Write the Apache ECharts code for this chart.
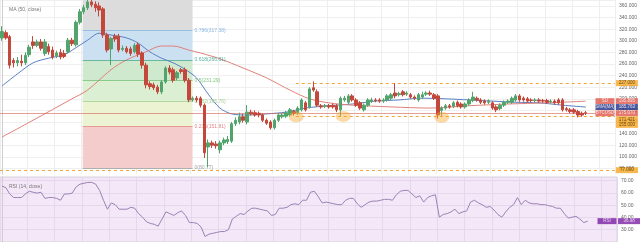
<!DOCTYPE html>
<html><head><meta charset="utf-8">
<script src="https://cdn.jsdelivr.net/npm/echarts@6/dist/echarts.min.js"></script>
<style>html,body{margin:0;padding:0;background:#fff}#c{width:640px;height:242px}</style>
</head><body><div id="c"></div>
<script>
// ---- data ----
const slotCount = 158;
const categories = Array.from({length: slotCount}, (_, i) => String(i + 1));
const opens = [305,314,307,266,262,265,262,276,298,292,298,278,290,284,274,280,278,281,301,293,332,350,357,367,363,360,355,310,286,308,308,285,287,286,281,293,279,258,226,224,220,212,229,253,250,236,250,250,232,198,201,201,189,117,124,122,112,124,126,127,157,160,169,160,177,176,175,172,163,160,150,163,169,170,172,178,176,181,193,186,219,212,188,187,188,189,188,181,198,194,205,198,193,181,189,196,198,198,196,198,201,210,207,212,208,207,203,198,203,208,210,207,205,180,184,188,187,194,191,186,191,197,201,198,196,194,193,186,183,189,194,194,198,205,201,200,198,197,198,197,197,195,196,198,198,183,181,181,178,175,176];
const closes = [316,305,258,262,266,262,275,289,292,298,287,298,281,272,279,272,273,301,295,332,350,357,367,362,357,353,310,284,304,303,284,287,281,278,292,277,258,224,221,219,212,229,253,246,232,245,247,232,198,201,198,189,107,124,120,119,124,129,130,157,163,169,163,177,174,172,172,163,158,150,163,172,172,176,181,175,184,198,181,217,215,189,186,188,186,186,181,201,201,205,198,189,184,189,198,198,197,196,198,205,207,205,209,207,210,203,201,207,207,210,208,201,172,184,188,186,193,188,186,191,198,203,198,194,193,196,184,181,189,194,196,201,205,198,198,196,197,198,196,196,194,196,193,193,181,181,178,177,172,172,175.07];
const lows = [300,302,252,254,256,256,258,272,286,289,283,274,276,268,270,268,270,278,291,290,328,346,353,358,350,342,305,280,258,298,280,282,278,274,278,272,252,218,216,215,208,208,226,242,228,232,243,228,194,195,194,185,98,82,115,114,106,120,122,124,153,156,159,156,171,169,168,160,155,147,147,160,166,167,169,171,172,178,178,183,212,186,183,184,183,183,177,170,195,191,195,186,181,178,186,193,194,193,193,195,198,201,204,204,205,200,198,195,200,205,205,198,166,170,181,183,184,185,183,183,188,194,195,191,190,191,181,177,180,186,191,191,195,195,195,193,194,194,193,193,191,192,190,190,178,178,175,174,168,169,172];
const highs = [325,318,310,270,272,276,280,293,308,302,303,303,295,290,283,286,284,305,305,335,355,362,372,372,368,366,358,314,307,312,312,292,291,290,296,297,282,262,230,228,224,232,256,258,254,248,253,254,236,204,205,204,192,130,128,127,128,133,136,160,168,176,174,189,181,180,178,175,166,163,166,175,175,179,184,181,187,201,196,220,230,216,191,191,191,192,191,204,205,208,208,201,196,192,201,202,201,201,201,208,210,227,212,215,213,210,206,210,212,213,214,210,208,187,191,191,196,197,194,194,201,212,204,201,199,199,196,189,192,197,199,204,208,208,204,203,201,201,201,200,200,199,199,201,201,186,184,184,181,178,179];
const rsiValues = [65.6,64.2,59.1,56.2,56.2,56.2,59.1,61.3,60.5,59.8,60.5,55.5,56.2,56.2,55.5,54.0,59.1,59.1,59.8,64.9,67.1,67.8,68.5,68.5,67.1,62.0,54.0,46.7,51.8,50.4,46.7,46.7,46.7,48.2,47.5,43.1,40.2,36.5,35.1,34.4,32.9,38.7,44.5,43.1,41.6,43.8,45.3,41.6,35.8,35.8,35.1,32.2,24.5,26.4,27.1,27.8,28.5,28.5,30.0,38.7,40.9,43.1,42.4,45.3,47.5,47.5,46.7,46.0,45.3,41.6,42.4,47.5,47.5,48.2,50.4,51.1,50.4,54.0,54.0,60.5,61.3,56.9,51.8,52.5,51.8,51.1,50.4,50.4,54.0,55.5,55.5,51.1,48.2,50.4,52.5,53.3,53.3,54.0,54.7,54.7,54.0,58.4,61.3,62.0,62.0,59.1,56.2,57.6,52.5,56.2,57.6,58.4,40.2,42.4,43.1,44.5,46.7,43.1,44.5,45.3,52.5,54.0,51.8,50.4,48.2,48.9,46.0,42.4,40.2,44.5,48.2,50.4,56.2,50.4,54.0,51.8,51.1,51.1,50.4,50.4,49.6,48.9,47.5,47.5,43.1,39.5,40.2,40.9,38.7,35.8,36.98];
// moving averages: [candle index, value]
const maBlue = [[0,222],[4,243],[8,262],[12,270],[16,276],[19,288],[22,301],[25,313],[28,310],[32,305],[35,296],[38,281],[41,270],[44,262],[47,251],[50,236],[53,208],[56,184],[59,174],[63,172],[68,174],[73,177],[78,184],[84,188],[90,191],[96,196],[102,198],[108,201],[114,200],[120,198],[126,196],[132,194],[138,193],[144,189],[150,185.763]];
const maRed = [[0,134],[8,163],[18,200],[22,215],[28,250],[32,267],[37,281],[41,291],[44,291],[48,284],[51,279],[56,269],[62,253],[68,236],[74,215],[79,200],[84,193],[90,189],[100,186],[110,184],[120,188],[130,191],[140,193],[150,195.895]];
const priceTicks = [80,100,120,140,160,180,200,220,240,260,280,300,320,340,360];
const rsiTicks = [30,40,50,60,70];
// drawing tools
const fibStart = [20.75, 381.8];
const fibEnd = [48.97, 80.77];
const fibLevels = [0, 0.236, 0.382, 0.5, 0.618, 0.786, 1];
const fibLineColors = ['#8a8a8a','#e06666','#93c47d','#5fb65f','#2e9b84','#6fa8dc','#8a8a8a'];
const fibZoneColors = ['#f4cccc','#ecf3d3','#dbefd3','#cfe9cf','#cbe0f1','#dcdcdc'];
const levelLines = [{from: 75.5, value: 227}, {from: 75.5, value: 170}, {from: -0.5, value: 77}];
const circles = [[75.6, 169], [87.7, 169.5], [113, 168]];
const lastPrice = 175.07;
const tags = [
  {name: 'SU', value: 195.895, color: '#e0574b'},
  {name: 'SMA(MA)', value: 185.763, color: '#1f2f86'},
  {name: 'BTCUSD', value: 175.070, color: '#e0574b'}
];
const orangeTags = [{value: 227, label: '227.000'}, {value: 164.6, label: '171.421'}, {value: 155, label: '155.000'}, {value: 77, label: '77.000'}];
const rsiTag = {name: 'RSI', value: 36.98};

// ---- build ----
const candleData = opens.map((o, i) => [o, closes[i], lows[i], highs[i]]);
const fibVal = l => fibEnd[1] + (fibStart[1] - fibEnd[1]) * l;
const fibAreas = [];
for (let k = 0; k < fibLevels.length - 1; k++) {
  fibAreas.push([{coord: [fibStart[0], fibVal(fibLevels[k])], itemStyle: {color: fibZoneColors[k]}},
                 {coord: [fibEnd[0], fibVal(fibLevels[k + 1])]}]);
}
const fibLines = fibLevels.map((l, k) => [
  {coord: [fibStart[0], fibVal(l)], lineStyle: {color: fibLineColors[k], width: 0.8, type: 'solid', opacity: 0.8},
   label: {show: k < 6, position: 'end', distance: 2, formatter: l + '(' + fibVal(l).toFixed(2) + ')', color: fibLineColors[k], fontSize: 5}},
  {coord: [fibEnd[0], fibVal(l)]}
]);
const diag = [{coord: fibStart, lineStyle: {color: '#999', type: [2, 2], width: 0.8}, label: {show: false}}, {coord: fibEnd}];
const hLines = levelLines.map(d => [
  {coord: [d.from, d.value], lineStyle: {color: '#f0a535', type: [3, 3], width: 1}, label: {show: false}},
  {coord: [157.5, d.value]}
]);
const nameX = 154.94, valX = 160.58;
const tagPoints = [];
tags.forEach(t => {
  tagPoints.push({value: [nameX, t.value], symbolSize: [19, 6], itemStyle: {color: t.color}, label: {formatter: t.name}});
  tagPoints.push({value: [valX, t.value], symbolSize: [22, 6], itemStyle: {color: t.color}, label: {formatter: t.value.toFixed(3)}});
});
orangeTags.forEach(t => {
  tagPoints.push({value: [valX, t.value], symbolSize: [22, 6], itemStyle: {color: '#f5a623'}, label: {formatter: t.label, color: '#4a2c00'}});
});

const chart = echarts.init(document.getElementById('c'), null, {renderer: 'canvas'});
chart.setOption({
  animation: false,
  backgroundColor: '#ffffff',
  title: [
    {text: 'MA (50, close)', left: 4, top: 2, textStyle: {fontSize: 5, color: '#777', fontWeight: 'normal'}},
    {text: 'RSI (14, close)', left: 4, top: 179, textStyle: {fontSize: 5, color: '#777', fontWeight: 'normal'}}
  ],
  grid: [
    {left: 0, top: 0, width: 617, height: 174.2},
    {left: 0, top: 177, width: 617, height: 72.7, show: true, backgroundColor: '#f4e7f8', borderColor: '#d5d5d5', borderWidth: 1}
  ],
  xAxis: [
    {type: 'category', gridIndex: 0, data: categories, boundaryGap: true, axisLine: {show: false}, axisTick: {show: false}, axisLabel: {show: false},
     splitLine: {show: true, interval: 6, lineStyle: {color: '#eeeeee', width: 1}}},
    {type: 'value', gridIndex: 0, min: -0.5, max: slotCount - 0.5, show: false},
    {type: 'category', gridIndex: 1, data: categories, boundaryGap: true, axisLine: {show: false}, axisTick: {show: false}, axisLabel: {show: false},
     splitLine: {show: true, interval: 6, lineStyle: {color: '#e6d8ec', width: 1}}},
    {type: 'value', gridIndex: 1, min: -0.5, max: slotCount - 0.5, show: false}
  ],
  yAxis: [
    {type: 'value', gridIndex: 0, position: 'right', min: 70, max: 370.3, interval: 10,
     axisLine: {show: true, lineStyle: {color: '#cfcfcf'}}, axisTick: {show: false},
     axisLabel: {margin: 4, fontSize: 5, color: '#666', showMaxLabel: false,
       formatter: v => priceTicks.includes(Math.round(v)) && Math.abs(v - Math.round(v)) < 1e-6 ? v.toFixed(3) : ''},
     splitLine: {show: true, lineStyle: {color: ['transparent', '#efefef']}}},
    {type: 'value', gridIndex: 1, position: 'right', min: 20, max: 72.9, interval: 10,
     axisLine: {show: true, lineStyle: {color: '#cfcfcf'}}, axisTick: {show: false},
     axisLabel: {margin: 4, fontSize: 5, color: '#666', showMaxLabel: false,
       formatter: v => rsiTicks.includes(Math.round(v)) && Math.abs(v - Math.round(v)) < 1e-6 ? v.toFixed(2) : ''},
     splitLine: {show: true, lineStyle: {color: '#e6d8ec'}}}
  ],
  series: [
    {type: 'line', xAxisIndex: 1, yAxisIndex: 0, data: [], z: 1, silent: true,
     markArea: {silent: true, data: fibAreas, itemStyle: {opacity: 1}},
     markLine: {silent: true, symbol: ['none', 'none'], data: fibLines.concat([diag]).concat(hLines)}},
    {type: 'candlestick', xAxisIndex: 0, yAxisIndex: 0, data: candleData, barWidth: 3, z: 5,
     itemStyle: {color: '#52a46c', color0: '#c4473c', borderColor: '#52a46c', borderColor0: '#c4473c', borderWidth: 1},
     markLine: {silent: true, symbol: ['none', 'none'], label: {show: false},
       lineStyle: {color: '#d9665c', type: 'solid', width: 0.8, opacity: 0.8}, data: [{yAxis: lastPrice}]}},
    {type: 'line', xAxisIndex: 0, yAxisIndex: 0, data: maBlue, showSymbol: false, smooth: 0.3, z: 4,
     lineStyle: {color: '#5a7fc4', width: 1}},
    {type: 'line', xAxisIndex: 0, yAxisIndex: 0, data: maRed, showSymbol: false, smooth: 0.3, z: 4,
     lineStyle: {color: '#e0827a', width: 1}},
    {type: 'scatter', xAxisIndex: 1, yAxisIndex: 0, data: circles, symbol: 'circle', symbolSize: [15, 11], z: 6,
     itemStyle: {color: 'rgba(245,170,50,0.55)'}},
    {type: 'scatter', xAxisIndex: 1, yAxisIndex: 0, data: tagPoints, symbol: 'rect', clip: false, z: 10,
     label: {show: true, position: 'inside', fontSize: 4.5, color: '#fff'}},
    {type: 'line', xAxisIndex: 2, yAxisIndex: 1, data: rsiValues, showSymbol: false, z: 4,
     lineStyle: {color: '#9c82b4', width: 1}},
    {type: 'scatter', xAxisIndex: 3, yAxisIndex: 1, symbol: 'rect', clip: false, z: 10,
     label: {show: true, position: 'inside', fontSize: 4.5, color: '#fff'},
     data: [{value: [nameX, rsiTag.value], symbolSize: [19, 6], itemStyle: {color: '#7b1fa2'}, label: {formatter: rsiTag.name}},
            {value: [valX, rsiTag.value], symbolSize: [22, 6], itemStyle: {color: '#7b1fa2'}, label: {formatter: rsiTag.value.toFixed(2)}}]}
  ]
});
</script></body></html>
